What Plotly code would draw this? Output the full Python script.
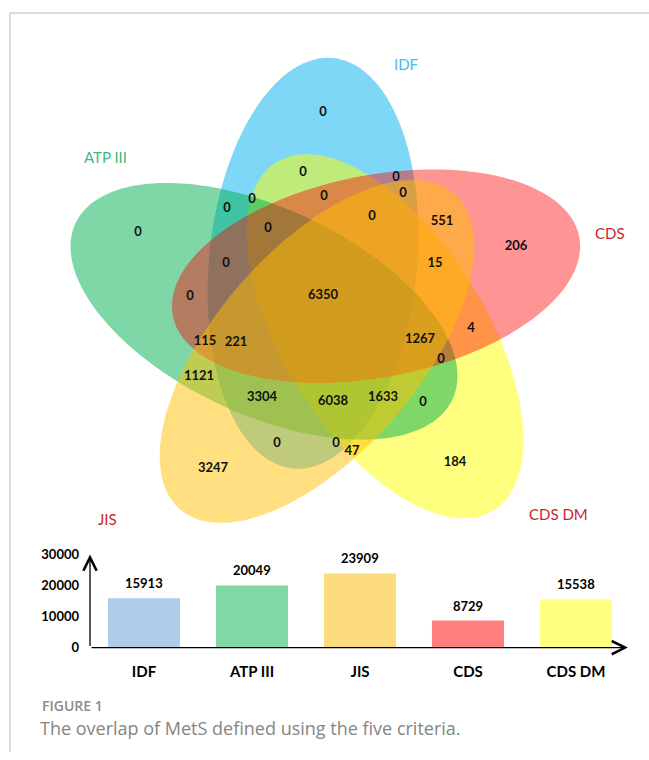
import numpy as np
import plotly.graph_objects as go

W, H = 649, 760

# ---------------- data ----------------
criteria = ["IDF", "ATP III", "JIS", "CDS", "CDS DM"]
totals = [15913, 20049, 23909, 8729, 15538]
y_ticks = [0, 10000, 20000, 30000]

# Venn region counts (one per region of the 5-set diagram)
venn_counts = [0, 0, 0, 0, 0, 0, 551, 0, 0, 0, 0, 206, 0, 15, 0, 6350,
               115, 221, 1267, 4, 0, 1121, 3304, 6038, 1633, 0, 0, 0, 47, 184, 3247]

# ---------------- layout (positions / styles) ----------------
# the rendered page is shown with a small vertical offset/scale; positions below are
# given in final-picture pixels and converted through this mapping
Y_OFF, Y_SCALE = 8.0, 0.978


def py(y_pix):
    """picture pixel (from top) -> paper fraction"""
    return 1 - ((y_pix - Y_OFF) / Y_SCALE) / H


count_pos = [(323, 113), (303, 173), (396, 178), (403, 194), (324, 197), (372, 217),
             (442, 222), (252, 200), (227, 209), (268, 229), (138, 233), (516, 247),
             (226, 263), (435, 263), (190, 296), (323, 295), (205, 341), (236, 342),
             (420, 339), (471, 328), (441, 359), (199, 376), (262, 397), (333, 401),
             (383, 397), (423, 402), (277, 443), (336, 443), (352, 451), (455, 462),
             (213, 468)]

# ellipse geometry in picture pixels: centre x, centre y, semi-major, semi-minor, angle (deg)
ellipse_geom = {
    "IDF":     (313, 263, 206, 104, -84.4),
    "CDS DM":  (385, 336, 205, 101, 58),
    "ATP III": (264, 311, 208, 103, 25),
    "CDS":     (376, 276, 207, 101, -11),
    "JIS":     (317, 351, 209, 102, -49),
}
draw_order = ["IDF", "CDS DM", "ATP III", "CDS", "JIS"]
ellipse_fill = {
    "IDF": "rgba(0,176,240,0.5)",
    "CDS DM": "rgba(255,255,0,0.5)",
    "ATP III": "rgba(0,176,80,0.5)",
    "CDS": "rgba(255,0,0,0.42)",
    "JIS": "rgba(255,192,0,0.5)",
}
set_labels = {
    "IDF": ((406, 64), "#45BCE8"),
    "ATP III": ((105, 157), "#3DB97A"),
    "CDS": ((610, 233), "#C8262C"),
    "JIS": ((107, 519), "#C8262C"),
    "CDS DM": ((558, 514), "#C8262C"),
}
bar_colors = ["#AFCDEB", "#7FD8A6", "#FDDC80", "#FF7F7F", "#FFFF80"]

FONT = "Lato"


def ellipse_path(cx, cy, a, b, ang):
    t = np.linspace(0, 2 * np.pi, 180, endpoint=False)
    th = np.deg2rad(ang)
    xs = cx + a * np.cos(t) * np.cos(th) - b * np.sin(t) * np.sin(th)
    ys = cy + a * np.cos(t) * np.sin(th) + b * np.sin(t) * np.cos(th)
    pts = [f"{x:.2f},{y:.2f}" for x, y in zip(xs, ys)]
    return "M " + " L ".join(pts) + " Z"


fig = go.Figure()

shapes = []
for name in draw_order:
    shapes.append(dict(type="path", path=ellipse_path(*ellipse_geom[name]),
                       xref="x", yref="y", fillcolor=ellipse_fill[name],
                       line=dict(width=0), layer="below"))

# frame lines
fx, fy = 10 / W, py(13)
shapes.append(dict(type="line", xref="paper", yref="paper", x0=fx, y0=fy, x1=1.0, y1=fy,
                   line=dict(color="#CFCFCF", width=1.5)))
shapes.append(dict(type="line", xref="paper", yref="paper", x0=fx, y0=fy, x1=fx, y1=0,
                   line=dict(color="#CFCFCF", width=1.5)))

# Venn counts
fig.add_trace(go.Scatter(
    x=[p[0] for p in count_pos], y=[p[1] for p in count_pos],
    text=[str(c) for c in venn_counts], mode="text",
    textfont=dict(family=FONT, size=13, color="#111111", weight="bold"),
    hoverinfo="skip", showlegend=False, xaxis="x", yaxis="y"))

# Bars
fig.add_trace(go.Bar(
    x=criteria, y=totals, marker=dict(color=bar_colors, line=dict(width=0)),
    width=0.667, xaxis="x2", yaxis="y2", showlegend=False, hoverinfo="skip"))

annotations = []
for name, ((lx, ly), col) in set_labels.items():
    annotations.append(dict(x=lx, y=ly, xref="x", yref="y", text=name, showarrow=False,
                            font=dict(family=FONT, size=15, color=col)))

for c, v in zip(criteria, totals):
    annotations.append(dict(x=c, y=v, xref="x2", yref="y2", text=str(v), showarrow=False,
                            yshift=15, font=dict(family=FONT, size=13, color="black", weight="bold")))

# axis arrows
annotations.append(dict(x=4.48, y=0, ax=-0.5, ay=0, xref="x2", yref="y2", axref="x2", ayref="y2",
                        text="", showarrow=True, arrowhead=5, arrowsize=2.0, arrowwidth=1.3,
                        arrowcolor="black", standoff=0, startstandoff=0))
annotations.append(dict(x=-0.5, y=30000, ax=-0.5, ay=0, xref="x2", yref="y2", axref="x2", ayref="y2",
                        text="", showarrow=True, arrowhead=5, arrowsize=2.0, arrowwidth=1.3,
                        arrowcolor="black", standoff=0, startstandoff=0))

# caption
annotations.append(dict(x=40 / W, y=py(705), xref="paper", yref="paper", xanchor="left",
                        yanchor="middle", text="FIGURE 1", showarrow=False,
                        font=dict(family="Open Sans", size=14, color="#8A8A8A", weight=600)))
annotations.append(dict(x=38 / W, y=py(727), xref="paper", yref="paper", xanchor="left",
                        yanchor="middle", text="The overlap of MetS defined using the five criteria.",
                        showarrow=False, font=dict(family="Open Sans", size=18, color="#858585")))

fig.update_layout(
    width=W, height=H, margin=dict(l=0, r=0, t=0, b=0),
    paper_bgcolor="white", plot_bgcolor="rgba(0,0,0,0)",
    shapes=shapes, annotations=annotations, showlegend=False,
    xaxis=dict(domain=[0, 1], range=[0, W], visible=False, fixedrange=True),
    yaxis=dict(domain=[0, 1], range=[Y_OFF + Y_SCALE * H, Y_OFF], visible=False, fixedrange=True),
    xaxis2=dict(domain=[90 / W, 630 / W], anchor="y2", type="category",
                categoryorder="array", categoryarray=criteria, range=[-0.5, 4.5],
                showgrid=False, zeroline=False, showline=False, ticks="",
                ticklabelstandoff=13,
                tickfont=dict(family=FONT, size=15, color="black", weight="bold")),
    yaxis2=dict(domain=[py(647), py(554)], anchor="x2", range=[0, 30000],
                tickvals=y_ticks, ticktext=[str(t) for t in y_ticks],
                showgrid=False, zeroline=False, showline=False, ticks="",
                ticklabelstandoff=10,
                tickfont=dict(family=FONT, size=13, color="black", weight="bold")),
)

fig.write_html("out.html", config={"displayModeBar": False},
               post_script="document.body.style.margin='0px';document.body.style.overflow='hidden';")
